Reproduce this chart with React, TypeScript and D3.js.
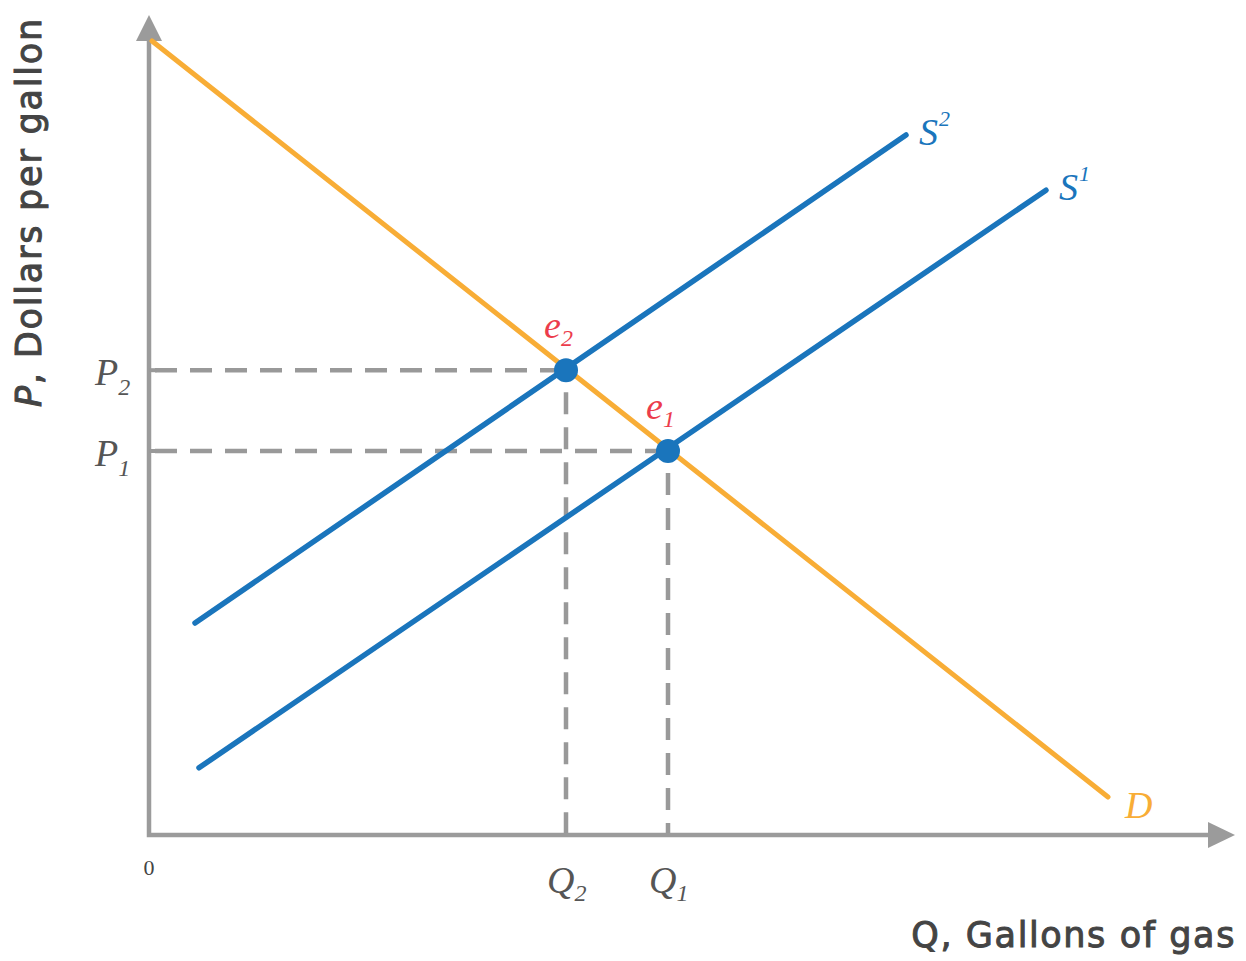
import * as d3 from 'd3';

// curve endpoints (q = quantity, p = price, 0..100 units)
const demand = [
  { q: 0.3, p: 99.25 },
  { q: 95.9, p: 4.75 },
];
const supply2 = [
  { q: 4.6, p: 26.5 },
  { q: 75.7, p: 87.5 },
];
const supply1 = [
  { q: 5.0, p: 8.4 },
  { q: 89.7, p: 80.6 },
];

const equilibria = [
  { name: 'e', sub: '2', q: 41.7, p: 58.1 },
  { name: 'e', sub: '1', q: 51.9, p: 48.0 },
];

const priceTicks = [
  { name: 'P', sub: '2', p: 58.1 },
  { name: 'P', sub: '1', p: 48.0 },
];
const qtyTicks = [
  { name: 'Q', sub: '2', q: 41.7 },
  { name: 'Q', sub: '1', q: 51.9 },
];

const curveLabels = [
  { text: 'S', sup: '2', q: 77.0, p: 87.9, color: '#1a75bc' },
  { text: 'S', sup: '1', q: 91.0, p: 81.0, color: '#1a75bc' },
  { text: 'D', sup: '', q: 97.6, p: 3.75, color: '#f8ad36' },
];

const W = 1246;
const H = 961;

const BLUE = '#1a75bc';
const ORANGE = '#f8ad36';
const RED = '#ec3c4c';
const AXIS = '#9b9b9b';
const SERIF = '"Liberation Serif", "DejaVu Serif", serif';
const SANS = '"DejaVu Sans", "Open Sans", sans-serif';

export default function App() {
  const x = d3.scaleLinear().domain([0, 100]).range([149, 1149]);
  const y = d3.scaleLinear().domain([0, 100]).range([835, 35]);

  const line = d3
    .line<{ q: number; p: number }>()
    .x((d) => x(d.q))
    .y((d) => y(d.p));

  const x0 = x(0);
  const y0 = y(0);
  const xTip = x(108.6);
  const yTip = y(102.5);

  return (
    <svg
      width={W}
      height={H}
      style={{ position: 'absolute', left: 0, top: 0, background: '#fff' }}
    >
      {/* dashed guides */}
      <g stroke="#999" strokeWidth={4.5} strokeDasharray="22 13" fill="none">
        {equilibria.map((e, i) => (
          <g key={i}>
            <line x1={x0 + 6} y1={y(e.p)} x2={x(e.q)} y2={y(e.p)} />
            <line x1={x(e.q)} y1={y(e.p) + 22} x2={x(e.q)} y2={y0} />
          </g>
        ))}
      </g>

      {/* axes */}
      <g stroke={AXIS} strokeWidth={4.5} fill="none">
        <path d={`M${x0},${yTip + 24} L${x0},${y0} L${xTip - 26},${y0}`} />
      </g>
      <polygon
        points={`${x0},${yTip} ${x0 - 13},${yTip + 26} ${x0 + 13},${yTip + 26}`}
        fill={AXIS}
      />
      <polygon
        points={`${xTip},${y0} ${xTip - 27},${y0 - 13} ${xTip - 27},${y0 + 13}`}
        fill={AXIS}
      />

      {/* curves */}
      <path d={line(demand) ?? ''} stroke={ORANGE} strokeWidth={5} fill="none" strokeLinecap="round" />
      <path d={line(supply2) ?? ''} stroke={BLUE} strokeWidth={5.5} fill="none" strokeLinecap="round" />
      <path d={line(supply1) ?? ''} stroke={BLUE} strokeWidth={5.5} fill="none" strokeLinecap="round" />

      {/* equilibrium points */}
      {equilibria.map((e, i) => (
        <g key={i}>
          <circle cx={x(e.q)} cy={y(e.p)} r={12} fill={BLUE} />
          <text
            x={x(e.q) - 22}
            y={y(e.p) - 32}
            fill={RED}
            fontFamily={SERIF}
            fontStyle="italic"
            fontSize={38}
          >
            {e.name}
            <tspan fontSize={24} dy={8}>{e.sub}</tspan>
          </text>
        </g>
      ))}

      {/* curve labels */}
      {curveLabels.map((c, i) => (
        <text
          key={i}
          x={x(c.q)}
          y={y(c.p) + 13}
          fill={c.color}
          fontFamily={SERIF}
          fontStyle="italic"
          fontSize={38}
        >
          {c.text}
          {c.sup && <tspan fontSize={22} dy={-19} dx={1}>{c.sup}</tspan>}
        </text>
      ))}

      {/* price ticks */}
      {priceTicks.map((t, i) => (
        <g key={i}>
          <line x1={x0} x2={x0 + 8} y1={y(t.p)} y2={y(t.p)} stroke="#999" strokeWidth={4} />
          <text
            x={95}
            y={y(t.p) + 15}
            fill="#555"
            fontFamily={SERIF}
            fontStyle="italic"
            fontSize={38}
          >
            {t.name}
            <tspan fontSize={24} dy={10}>{t.sub}</tspan>
          </text>
        </g>
      ))}

      {/* quantity ticks */}
      {qtyTicks.map((t, i) => (
        <text
          key={i}
          x={x(t.q) - 19}
          y={893}
          fill="#555"
          fontFamily={SERIF}
          fontStyle="italic"
          fontSize={38}
        >
          {t.name}
          <tspan fontSize={24} dy={8}>{t.sub}</tspan>
        </text>
      ))}

      <text x={x0} y={875} textAnchor="middle" fill="#444" fontFamily={SERIF} fontSize={22}>
        0
      </text>

      {/* axis titles */}
      <text
        x={1236}
        y={947}
        textAnchor="end"
        fill="#444"
        stroke="#444"
        strokeWidth={1}
        fontFamily={SANS}
        fontSize={35}
        letterSpacing={1.6}
      >
        Q, Gallons of gas
      </text>
      <text
        transform={`translate(41,212) rotate(-90)`}
        textAnchor="middle"
        fill="#444"
        stroke="#444"
        strokeWidth={1}
        fontFamily={SANS}
        fontSize={35}
        letterSpacing={1.8}
      >
        <tspan fontStyle="italic">P</tspan>, Dollars per gallon
      </text>
    </svg>
  );
}
